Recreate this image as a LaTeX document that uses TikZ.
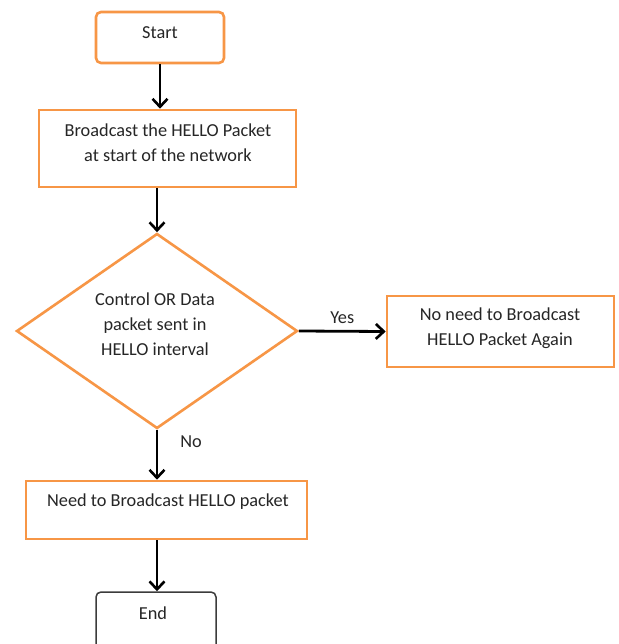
\documentclass[tikz,border=0pt]{standalone}
\usepackage{fontspec}
\setmainfont{Carlito}
\usetikzlibrary{shapes.geometric,arrows.meta}
\definecolor{boxorange}{RGB}{247,150,70}
\definecolor{enddark}{RGB}{60,60,60}
\begin{document}
\begin{tikzpicture}[x=1pt,y=-1pt,
  obox/.style={draw=boxorange,line width=2.6pt,inner sep=0pt},
  rbox/.style={obox,rounded corners=5pt},
  ebox/.style={draw=enddark,line width=1.5pt,rounded corners=5pt,inner sep=0pt},
  dia/.style={draw=boxorange,line width=2.6pt,diamond,inner sep=0pt},
  txt/.style={font=\fontsize{18.3}{25}\selectfont,align=center,inner sep=0pt,text=black!85},
  arr/.style={line width=2.8pt,-{Straight Barb[length=8pt,width=15pt,line width=2.6pt]}}
]
\useasboundingbox (0,0) rectangle (618,644);
\clip (0,0) rectangle (618,644);
\fill[white] (0,0) rectangle (618,644);
% shapes
\node[rbox,minimum width=128pt,minimum height=51pt] (start) at (160,37.5) {};
\node[obox,minimum width=257pt,minimum height=77pt] (bcast) at (167.5,148.5) {};
\node[dia,minimum width=281pt,minimum height=195pt] (dec) at (157,331) {};
\node[obox,minimum width=227pt,minimum height=71pt] (noneed) at (500.5,331.5) {};
\node[obox,minimum width=281pt,minimum height=58pt] (need) at (166.5,510) {};
\node[ebox,minimum width=120pt,minimum height=70pt] (end) at (156,627) {};
% texts
\node[txt] (tstart) at (160,33) {Start};
\node[txt] (tbcast) at (168,143) {Broadcast the HELLO Packet\\at start of the network};
\node[txt] (tdec) at (155,324) {Control OR Data\\packet sent in\\HELLO interval};
\node[txt] (tnoneed) at (500,328.5) {No need to Broadcast\\HELLO Packet Again};
\node[txt] (tneed) at (168,502) {Need to Broadcast HELLO packet};
\node[txt] (tend) at (153,613) {End};
% connectors
\draw[arr] (start.south -| tstart) -- (bcast.north -| tstart);
\draw[arr] (bcast.south -| dec.north) -- (dec.north);
\draw[arr] (dec.east) -- node[txt,above=6pt] (yes) {Yes} (noneed.west);
\draw[arr] (dec.south) -- (need.north -| dec.south);
\node[txt] (no) at (191,442) {No};
\draw[arr] (need.south -| dec.south) -- (end.north -| dec.south);
\end{tikzpicture}
\end{document}
